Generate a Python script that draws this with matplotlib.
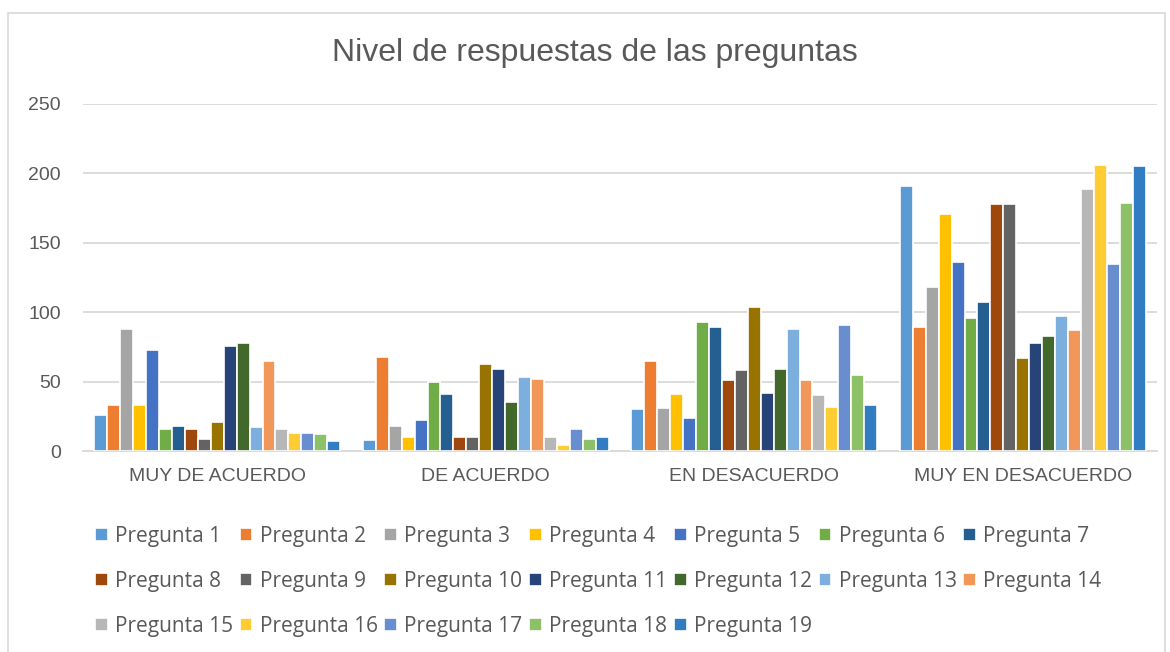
import matplotlib
matplotlib.use("Agg")
import matplotlib.pyplot as plt
import numpy as np
from matplotlib.patches import Rectangle

categories = ["MUY DE ACUERDO", "DE ACUERDO", "EN DESACUERDO", "MUY EN DESACUERDO"]
series_names = [f"Pregunta {i}" for i in range(1, 20)]
p1 = [26, 8, 30, 191]
p2 = [33, 68, 65, 89]
p3 = [88, 18, 31, 118]
p4 = [33, 10, 41, 171]
p5 = [73, 22, 24, 136]
p6 = [16, 50, 93, 96]
p7 = [18, 41, 89, 107]
p8 = [16, 10, 51, 178]
p9 = [9, 10, 58, 178]
p10 = [21, 63, 104, 67]
p11 = [76, 59, 42, 78]
p12 = [78, 35, 59, 83]
p13 = [17, 53, 88, 97]
p14 = [65, 52, 51, 87]
p15 = [16, 10, 40, 189]
p16 = [13, 4, 32, 206]
p17 = [13, 16, 91, 135]
p18 = [12, 9, 55, 179]
p19 = [7, 10, 33, 205]
values = [p1, p2, p3, p4, p5, p6, p7, p8, p9, p10, p11, p12, p13, p14, p15, p16, p17, p18, p19]
colors = ["#5B9BD5", "#ED7D31", "#A5A5A5", "#FFC000", "#4472C4", "#70AD47", "#255E91",
          "#9E480E", "#636363", "#997300", "#264478", "#43682B", "#7CAFDD", "#F1975A",
          "#B7B7B7", "#FFCD33", "#698ED0", "#8CC168", "#327DC2"]
yticks = [0, 50, 100, 150, 200, 250]

W, H = 1170, 652
fig = plt.figure(figsize=(W / 100, H / 100), dpi=100)
fig.patch.set_facecolor("white")
# chart border
fig.add_artist(Rectangle((8 / W, -0.02), (1165 - 8) / W, 1 - 13 / H + 0.02,
                         transform=fig.transFigure, fill=False, edgecolor="#D9D9D9", lw=1.2))

ax = fig.add_axes([83 / W, 1 - 451 / H, (1157 - 83) / W, (451 - 104) / H])
n = len(values)
slot = 1.0 / (n + 1.75)
x = np.arange(len(categories))
for i, (vals, c) in enumerate(zip(values, colors)):
    offs = (i - (n - 1) / 2) * slot
    ax.bar(x + offs, vals, width=slot, color=c, edgecolor="white", linewidth=1.2,
           label=series_names[i], zorder=3)

ax.set_xlim(-0.5, len(categories) - 0.5)
ax.set_ylim(0, 250)
ax.set_yticks(yticks)
ax.set_yticklabels([str(t) for t in yticks], fontsize=14, color="#595959", family="Liberation Sans")
ax.set_xticks(x)
ax.set_xticklabels(categories, fontsize=14, color="#595959", family="Liberation Sans")
ax.tick_params(axis="both", length=0)
ax.tick_params(axis="y", pad=16)
ax.tick_params(axis="x", pad=12)
ax.grid(axis="y", color="#D9D9D9", lw=1.3, zorder=0)
for s in ["top", "right", "left"]:
    ax.spines[s].set_visible(False)
ax.spines["bottom"].set_color("#D9D9D9")
ax.spines["bottom"].set_linewidth(1.3)

fig.text(595 / W, 1 - 53 / H, "Nivel de respuestas de las preguntas", ha="center", va="center",
         fontsize=23, color="#595959", family="Liberation Sans")

# legend in row-major order
handles, labels = ax.get_legend_handles_labels()
order = []
for j in range(7):
    for k in range(3):
        idx = j + 7 * k
        if idx < n:
            order.append(idx)
leg = fig.legend([handles[i] for i in order], [labels[i] for i in order], ncol=7,
                 loc="upper left", bbox_to_anchor=(95 / W, 1 - 526 / H), frameon=False,
                 handlelength=0.6, handleheight=0.6, handletextpad=0.35,
                 columnspacing=0.33, labelspacing=1.15, borderaxespad=0, borderpad=0,
                 prop={"family": "Open Sans", "size": 15})
for t in leg.get_texts():
    t.set_color("#595959")

fig.savefig("out.png", dpi=100, facecolor="white")
